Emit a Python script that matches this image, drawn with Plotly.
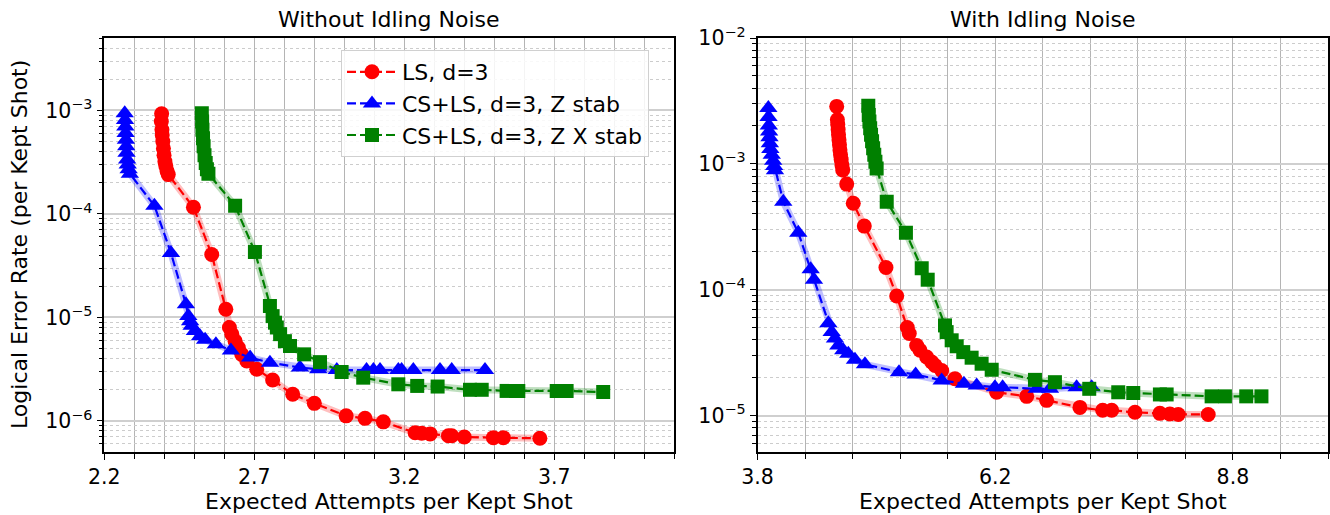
import plotly.graph_objects as go

# ---------------- data ----------------
# Left panel: Without Idling Noise
ls_left_x = [2.391, 2.390, 2.392, 2.393, 2.395, 2.397, 2.399, 2.402, 2.405, 2.409, 2.413,
             2.497, 2.558, 2.605, 2.617, 2.625, 2.636, 2.647, 2.658, 2.675, 2.708, 2.761,
             2.828, 2.900, 3.006, 3.069, 3.130, 3.236, 3.258, 3.286, 3.347, 3.358, 3.400,
             3.497, 3.530, 3.652]
ls_left_y = [9.3e-4, 7.8e-4, 6.5e-4, 5.8e-4, 5.0e-4, 4.3e-4, 3.7e-4, 3.2e-4, 2.9e-4, 2.6e-4, 2.4e-4,
             1.16e-4, 4.06e-5, 1.2e-5, 8.0e-6, 6.9e-6, 5.9e-6, 5.1e-6, 4.4e-6, 3.8e-6, 3.16e-6, 2.49e-6,
             1.81e-6, 1.48e-6, 1.12e-6, 1.06e-6, 9.8e-7, 7.7e-7, 7.6e-7, 7.5e-7, 7.2e-7, 7.2e-7, 7.0e-7,
             6.9e-7, 6.9e-7, 6.8e-7]

zs_left_x = [2.268, 2.269, 2.270, 2.271, 2.272, 2.273, 2.274, 2.276, 2.278, 2.281, 2.285,
             2.367, 2.422, 2.472, 2.480, 2.486, 2.491, 2.502, 2.519, 2.536, 2.572, 2.622,
             2.686, 2.752, 2.852, 2.913, 2.975, 3.074, 3.097, 3.119, 3.180, 3.191, 3.230,
             3.319, 3.358, 3.469]
zs_left_y = [9.4e-4, 8.1e-4, 7.0e-4, 6.05e-4, 5.2e-4, 4.5e-4, 3.9e-4, 3.35e-4, 3.0e-4, 2.7e-4, 2.45e-4,
             1.2e-4, 4.2e-5, 1.34e-5, 1.03e-5, 9.2e-6, 8.3e-6, 7.4e-6, 6.6e-6, 6.1e-6, 5.5e-6, 4.8e-6,
             4.1e-6, 3.66e-6, 3.28e-6, 3.16e-6, 3.1e-6, 3.11e-6, 3.1e-6, 3.1e-6, 3.1e-6, 3.1e-6, 3.1e-6,
             3.1e-6, 3.1e-6, 3.1e-6]

zx_left_x = [2.525, 2.526, 2.527, 2.529, 2.531, 2.534, 2.538, 2.542, 2.547,
             2.636, 2.702, 2.752, 2.761, 2.769, 2.775, 2.786, 2.802, 2.819, 2.866, 2.919,
             2.991, 3.063, 3.180, 3.243, 3.311, 3.419, 3.458, 3.541, 3.580, 3.708, 3.741, 3.863]
zx_left_y = [9.4e-4, 7.8e-4, 6.5e-4, 5.4e-4, 4.5e-4, 3.7e-4, 3.1e-4, 2.7e-4, 2.45e-4,
             1.2e-4, 4.3e-5, 1.29e-5, 1.03e-5, 8.9e-6, 8.0e-6, 6.9e-6, 5.9e-6, 5.3e-6, 4.4e-6, 3.7e-6,
             2.97e-6, 2.62e-6, 2.26e-6, 2.18e-6, 2.15e-6, 2.0e-6, 2.0e-6, 1.95e-6, 1.95e-6, 1.95e-6, 1.95e-6, 1.9e-6]

# Right panel: With Idling Noise
ls_right_x = [4.583, 4.590, 4.594, 4.598, 4.602, 4.607, 4.612, 4.617, 4.623, 4.630, 4.638, 4.646,
              4.688, 4.757, 4.873, 5.101, 5.214, 5.325, 5.346, 5.424, 5.459, 5.529, 5.582,
              5.617, 5.687, 5.827, 6.265, 6.581, 6.791, 7.141, 7.380, 7.475, 7.720, 7.982,
              8.087, 8.175, 8.490]
ls_right_y = [2.86e-3, 2.24e-3, 2.05e-3, 1.87e-3, 1.70e-3, 1.55e-3, 1.42e-3, 1.29e-3, 1.18e-3, 1.08e-3, 9.8e-4, 8.95e-4,
              6.9e-4, 4.86e-4, 3.2e-4, 1.5e-4, 8.9e-5, 5.0e-5, 4.48e-5, 3.6e-5, 3.3e-5, 2.92e-5, 2.66e-5,
              2.5e-5, 2.28e-5, 1.96e-5, 1.53e-5, 1.42e-5, 1.32e-5, 1.16e-5, 1.1e-5, 1.1e-5, 1.06e-5, 1.04e-5,
              1.03e-5, 1.02e-5, 1.02e-5]

zs_right_x = [3.864, 3.866, 3.869, 3.872, 3.876, 3.880, 3.885, 3.900, 3.915, 3.925, 3.934,
              4.021, 4.179, 4.309, 4.344, 4.495, 4.530, 4.565, 4.600, 4.652, 4.705, 4.775,
              4.880, 5.238, 5.413, 5.687, 5.921, 6.055, 6.247, 6.328, 6.686, 6.826, 7.106, 7.264]
zs_right_y = [2.78e-3, 2.36e-3, 2.02e-3, 1.81e-3, 1.63e-3, 1.46e-3, 1.31e-3, 1.18e-3, 1.06e-3, 9.6e-4, 8.9e-4,
              5.0e-4, 2.84e-4, 1.45e-4, 1.2e-4, 5.4e-5, 4.6e-5, 4.1e-5, 3.6e-5, 3.3e-5, 3.1e-5, 2.78e-5,
              2.55e-5, 2.21e-5, 2.12e-5, 1.9e-5, 1.79e-5, 1.73e-5, 1.68e-5, 1.68e-5, 1.63e-5, 1.63e-5, 1.68e-5, 1.68e-5]

zx_right_x = [4.915, 4.920, 4.927, 4.935, 4.944, 4.955, 4.966, 4.978, 4.990, 5.003,
              5.109, 5.311, 5.477, 5.540, 5.722, 5.739, 5.792, 5.845, 5.914, 6.002, 6.107,
              6.213, 6.668, 6.878, 7.239, 7.544, 7.702, 7.982, 8.053, 8.526, 8.666, 8.890, 9.050]
zx_right_y = [2.9e-3, 2.45e-3, 2.17e-3, 1.92e-3, 1.70e-3, 1.51e-3, 1.33e-3, 1.18e-3, 1.04e-3, 9.2e-4,
              5.0e-4, 2.84e-4, 1.48e-4, 1.2e-4, 5.2e-5, 4.6e-5, 3.96e-5, 3.55e-5, 3.19e-5, 2.88e-5, 2.58e-5,
              2.31e-5, 1.92e-5, 1.84e-5, 1.63e-5, 1.53e-5, 1.51e-5, 1.47e-5, 1.47e-5, 1.42e-5, 1.42e-5, 1.42e-5, 1.42e-5]

series_names = ["LS, d=3", "CS+LS, d=3, Z stab", "CS+LS, d=3, Z X stab"]
titles = ["Without Idling Noise", "With Idling Noise"]
x_label = "Expected Attempts per Kept Shot"
y_label = "Logical Error Rate (per Kept Shot)"
left_xticks = [2.2, 2.7, 3.2, 3.7]
left_xticktext = ["2.2", "2.7", "3.2", "3.7"]
right_xticks = [3.75, 6.25, 8.75]
right_xticktext = ["3.8", "6.2", "8.8"]
left_yticks = [1e-6, 1e-5, 1e-4, 1e-3]
left_yticktext = ["10<sup>−6</sup>", "10<sup>−5</sup>", "10<sup>−4</sup>", "10<sup>−3</sup>"]
right_yticks = [1e-5, 1e-4, 1e-3, 1e-2]
right_yticktext = ["10<sup>−5</sup>", "10<sup>−4</sup>", "10<sup>−3</sup>", "10<sup>−2</sup>"]

# ---------------- styling ----------------
FONT = "DejaVu Sans"
FS = 22          # labels, titles, legend
FT = 20.5        # tick labels
colors = ["#ff0000", "#0000ff", "#008000"]
bands = ["rgba(255,0,0,0.25)", "rgba(0,0,255,0.25)", "rgba(0,128,0,0.25)"]
symbols = ["circle", "triangle-up", "square"]
msizes = [15, 16, 14]

W, H = 1330, 515
L1, R1 = 104.3, 674.3
L2, R2 = 757.5, 1328.0
TOP, BOT = 38.0, 452.0

fig = go.Figure()

panels = [
    ("x", "y", [(ls_left_x, ls_left_y), (zs_left_x, zs_left_y), (zx_left_x, zx_left_y)], True),
    ("x2", "y2", [(ls_right_x, ls_right_y), (zs_right_x, zs_right_y), (zx_right_x, zx_right_y)], False),
]

for xa, ya, data, show in panels:
    for i, (xs, ys) in enumerate(data):
        fig.add_trace(go.Scatter(x=xs, y=ys, xaxis=xa, yaxis=ya, mode="lines",
                                 line=dict(color=bands[i], width=7),
                                 showlegend=False, hoverinfo="skip"))
    for i, (xs, ys) in enumerate(data):
        fig.add_trace(go.Scatter(x=xs, y=ys, xaxis=xa, yaxis=ya, mode="lines+markers",
                                 name=series_names[i], showlegend=show,
                                 line=dict(color=colors[i], width=2.2, dash="9px,4px"),
                                 marker=dict(symbol=symbols[i], size=msizes[i], color=colors[i],
                                             line=dict(width=0))))


def minor_log(lo, hi):
    vals = []
    for e in range(lo, hi + 1):
        for k in range(2, 10):
            vals.append(k * 10.0 ** e)
    return vals


axis_common = dict(showline=True, linecolor="black", linewidth=1.6, mirror=True,
                   ticks="outside", ticklen=6, tickwidth=1.3, tickcolor="black",
                   tickfont=dict(family=FONT, size=FT, color="black"),
                   zeroline=False, automargin=False)

fig.update_layout(
    width=W, height=H,
    margin=dict(l=0, r=0, t=0, b=0, autoexpand=False),
    paper_bgcolor="white", plot_bgcolor="white",
    font=dict(family=FONT, size=FS, color="black"),
    xaxis=dict(domain=[L1 / W, R1 / W], anchor="y", range=[2.1999, 4.1],
               tickmode="array", tickvals=left_xticks, ticktext=left_xticktext,
               showgrid=True, gridcolor="#b4b4b4", gridwidth=1,
               minor=dict(dtick=0.1, tick0=2.2, ticks="outside", ticklen=5, tickcolor="black",
                          showgrid=True, gridcolor="#b4b4b4", gridwidth=1),
               **axis_common),
    xaxis2=dict(domain=[L2 / W, R2 / W], anchor="y2", range=[3.7499, 9.75],
                tickmode="array", tickvals=right_xticks, ticktext=right_xticktext,
                showgrid=True, gridcolor="#b4b4b4", gridwidth=1,
                minor=dict(dtick=0.5, tick0=3.75, ticks="outside", ticklen=5, tickcolor="black",
                           showgrid=True, gridcolor="#b4b4b4", gridwidth=1),
                **axis_common),
    yaxis=dict(domain=[1 - BOT / H, 1 - TOP / H], anchor="x", type="log", range=[-6.3, -2.3],
               tickmode="array", tickvals=left_yticks, ticktext=left_yticktext,
               showgrid=True, gridcolor="#cfcfcf", gridwidth=2,
               minor=dict(tickmode="array", tickvals=minor_log(-7, -3), ticks="outside", ticklen=3.5,
                          tickcolor="black", showgrid=True, gridcolor="#cccccc", griddash="dot", gridwidth=1),
               **axis_common),
    yaxis2=dict(domain=[1 - BOT / H, 1 - TOP / H], anchor="x2", type="log", range=[-5.29, -1.9999],
                tickmode="array", tickvals=right_yticks, ticktext=right_yticktext,
                showgrid=True, gridcolor="#cfcfcf", gridwidth=2,
                minor=dict(tickmode="array", tickvals=minor_log(-6, -3), ticks="outside", ticklen=3.5,
                           tickcolor="black", showgrid=True, gridcolor="#cccccc", griddash="dot", gridwidth=1),
                **axis_common),
    legend=dict(x=341 / W, y=1 - 50 / H, xanchor="left", yanchor="top",
                bgcolor="rgba(255,255,255,0.85)", bordercolor="#d0d0d0", borderwidth=1,
                itemwidth=50,
                font=dict(family=FONT, size=FS, color="black"), tracegroupgap=0),
    showlegend=True,
)

ann_font = dict(family=FONT, size=FS, color="black")
for txt, cx, cy, ang in [
    (titles[0], (L1 + R1) / 2, 20, 0),
    (titles[1], (L2 + R2) / 2, 20, 0),
    (x_label, (L1 + R1) / 2, 501, 0),
    (x_label, (L2 + R2) / 2, 501, 0),
    (y_label, 19, 245, -90),
]:
    fig.add_annotation(text=txt, x=cx / W, y=1 - cy / H, xref="paper", yref="paper",
                       xanchor="center", yanchor="middle", showarrow=False,
                       textangle=ang, font=ann_font)

fig.write_html("out.html", config={"displayModeBar": False},
               post_script="document.body.style.margin='0';document.body.style.overflow='hidden';")
